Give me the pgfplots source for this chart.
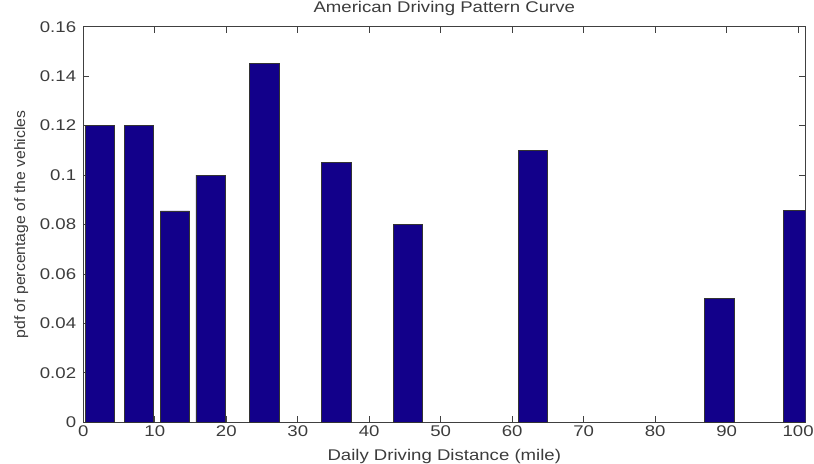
\documentclass[border=0pt]{standalone}
\usepackage{fontspec}
\setmainfont{Liberation Sans}[FakeStretch=1.2]
\newfontfamily\ylfont{Liberation Sans}[FakeStretch=1.05]
\usepackage{pgfplots}
\pgfplotsset{compat=1.18}
\definecolor{barblue}{RGB}{18,0,138}
\definecolor{txt}{RGB}{60,60,60}
\begin{document}
\begin{tikzpicture}
\begin{axis}[
  scale only axis, width=722pt, height=395.6pt,
  xmin=0, xmax=101, ymin=0, ymax=0.16,
  xtick={0,10,20,30,40,50,60,70,80,90,100},
  xticklabels={0,10,20,30,40,50,60,70,80,90,100},
  ytick={0,0.02,0.04,0.06,0.08,0.1,0.12,0.14,0.16},
  yticklabels={0,0.02,0.04,0.06,0.08,0.1,0.12,0.14,0.16},
  /pgf/number format/assume math mode=true,
  tick align=inside, tick pos=both, major tick length=6pt,
  axis line style={black!75, line width=0.8pt},
  every tick/.style={black!75, line width=0.8pt},
  tick label style={font=\fontsize{15.5}{18}\selectfont, text=txt, inner sep=0pt},
  yticklabel style={anchor=east, xshift=-7pt},
  xticklabel style={anchor=north, yshift=-3.4pt},
  title={American Driving Pattern Curve},
  title style={at={(axis description cs:0.5,1)}, anchor=base, yshift=8.4pt, inner sep=0pt, text=txt, font=\fontsize{15.5}{18}\selectfont},
  xlabel={Daily Driving Distance (mile)},
  xlabel style={at={(axis description cs:0.5,0)}, anchor=base, yshift=-37.7pt, inner sep=0pt, text=txt, font=\fontsize{15.5}{18}\selectfont},
  ylabel={pdf of percentage of the vehicles},
  ylabel style={at={(axis description cs:-0.0807,0.5)}, anchor=base, inner sep=0pt, text=txt, font=\ylfont\fontsize{15}{18}\selectfont},
]
\addplot[ybar, bar width=4.1, bar shift=0pt, fill=barblue, draw=black!80, line width=0.6pt] coordinates {
  (2.29,0.120) (7.81,0.120) (12.83,0.0855) (17.81,0.100) (25.32,0.145)
  (35.40,0.105) (45.42,0.080) (62.90,0.110) (88.99,0.050) (99.95,0.0856)
};
\end{axis}
\path (current axis.south west) ++(-83.3pt,-40.7pt) rectangle ++(814pt,463pt);
\end{tikzpicture}
\end{document}
